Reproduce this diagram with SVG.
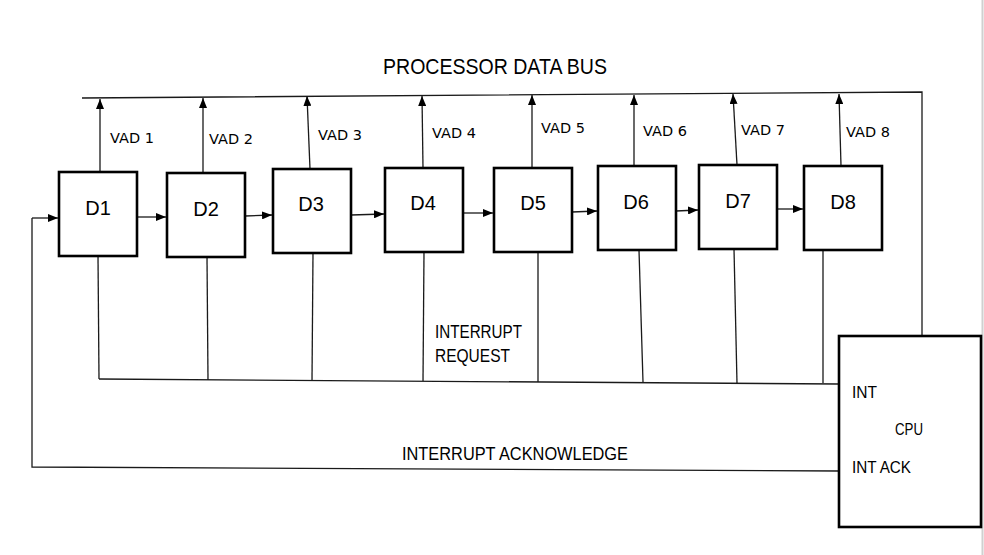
<svg xmlns="http://www.w3.org/2000/svg" width="984" height="555" viewBox="0 0 984 555">
<defs>
<marker id="ah" viewBox="0 0 10 8" refX="10" refY="4" markerWidth="10" markerHeight="8" markerUnits="userSpaceOnUse" orient="auto">
<path d="M0,0 L10,4 L0,8 z" fill="#000"/>
</marker>
<style>
.box{fill:#fff;stroke:#000;stroke-width:2.6}
.ln{fill:none;stroke:#1a1a1a;stroke-width:1.3}
.ar{fill:none;stroke:#1a1a1a;stroke-width:1.3;marker-end:url(#ah)}
.vad{font-family:"DejaVu Sans",Verdana,sans-serif;font-size:14.5px;fill:#000}
.dl{font-family:"Liberation Sans",Arial,sans-serif;font-size:20px;fill:#000;text-anchor:middle}
.lb{font-family:"Liberation Sans",Arial,sans-serif;fill:#000}
</style>
</defs>
<rect width="984" height="555" fill="#fff"/>
<line x1="982.5" y1="0" x2="982.5" y2="555" stroke="#d0d0d0" stroke-width="2"/>

<g id="connectors">
<polyline class="ln" points="82,98 922,92 922,336"/>
<line class="ar" x1="100" y1="172" x2="100" y2="99"/>
<line class="ar" x1="203" y1="173" x2="203" y2="98"/>
<line class="ar" x1="310" y1="169" x2="307" y2="96"/>
<line class="ar" x1="423" y1="168" x2="422" y2="96"/>
<line class="ar" x1="532" y1="168" x2="532" y2="95"/>
<line class="ar" x1="634" y1="166" x2="634" y2="95"/>
<line class="ar" x1="737" y1="165" x2="733" y2="94"/>
<line class="ar" x1="841" y1="166" x2="839" y2="94"/>

<line class="ar" x1="137" y1="217" x2="166" y2="217"/>
<line class="ar" x1="245" y1="216" x2="272" y2="215"/>
<line class="ar" x1="351" y1="215" x2="384" y2="214"/>
<line class="ar" x1="463" y1="213" x2="493" y2="213"/>
<line class="ar" x1="572" y1="212" x2="597" y2="211"/>
<line class="ar" x1="676" y1="211" x2="698" y2="210"/>
<line class="ar" x1="777" y1="209" x2="803" y2="209"/>

<line class="ln" x1="98" y1="256" x2="99" y2="379"/>
<line class="ln" x1="207" y1="257" x2="208" y2="380"/>
<line class="ln" x1="313" y1="253" x2="312" y2="381"/>
<line class="ln" x1="424" y1="252" x2="423" y2="381"/>
<line class="ln" x1="538" y1="252" x2="538" y2="382"/>
<line class="ln" x1="639" y1="250" x2="643" y2="382"/>
<line class="ln" x1="734" y1="249" x2="737" y2="383"/>
<line class="ln" x1="823" y1="250" x2="823" y2="383"/>
<line class="ln" x1="99" y1="379" x2="839" y2="384"/>

<polyline class="ln" points="839,471 32,467 32,218"/>
<line class="ar" x1="32" y1="218" x2="58" y2="218"/>
</g>

<text class="lb" x="495" y="74" font-size="22.5" text-anchor="middle" textLength="224" lengthAdjust="spacingAndGlyphs">PROCESSOR DATA BUS</text>

<text class="vad" x="110" y="143">VAD 1</text>
<text class="vad" x="209" y="144">VAD 2</text>
<text class="vad" x="318" y="140">VAD 3</text>
<text class="vad" x="432" y="138">VAD 4</text>
<text class="vad" x="541" y="133">VAD 5</text>
<text class="vad" x="643" y="136">VAD 6</text>
<text class="vad" x="741" y="135">VAD 7</text>
<text class="vad" x="846" y="137">VAD 8</text>

<g id="D1"><rect class="box" x="59" y="172" width="78" height="84"/><text class="dl" x="98" y="215">D1</text></g>
<g id="D2"><rect class="box" x="167" y="173" width="78" height="84"/><text class="dl" x="206" y="216">D2</text></g>
<g id="D3"><rect class="box" x="273" y="169" width="78" height="84"/><text class="dl" x="311" y="211">D3</text></g>
<g id="D4"><rect class="box" x="385" y="168" width="78" height="84"/><text class="dl" x="423" y="210">D4</text></g>
<g id="D5"><rect class="box" x="494" y="168" width="78" height="84"/><text class="dl" x="533" y="210">D5</text></g>
<g id="D6"><rect class="box" x="598" y="166" width="78" height="84"/><text class="dl" x="636" y="209">D6</text></g>
<g id="D7"><rect class="box" x="699" y="165" width="78" height="84"/><text class="dl" x="738" y="208">D7</text></g>
<g id="D8"><rect class="box" x="804" y="166" width="78" height="84"/><text class="dl" x="843" y="209">D8</text></g>

<text class="lb" x="435" y="338" font-size="18" textLength="87" lengthAdjust="spacingAndGlyphs">INTERRUPT</text>
<text class="lb" x="435" y="362" font-size="18" textLength="75" lengthAdjust="spacingAndGlyphs">REQUEST</text>
<text class="lb" x="402" y="460" font-size="17.5" textLength="226" lengthAdjust="spacingAndGlyphs">INTERRUPT ACKNOWLEDGE</text>

<g id="CPU">
<rect class="box" x="839" y="336" width="142" height="191"/>
<text class="lb" x="852" y="398" font-size="16.5" textLength="25" lengthAdjust="spacingAndGlyphs">INT</text>
<text class="lb" x="895" y="435" font-size="16.5" textLength="28" lengthAdjust="spacingAndGlyphs">CPU</text>
<text class="lb" x="852" y="473" font-size="16.5" textLength="59" lengthAdjust="spacingAndGlyphs">INT ACK</text>
</g>
</svg>
